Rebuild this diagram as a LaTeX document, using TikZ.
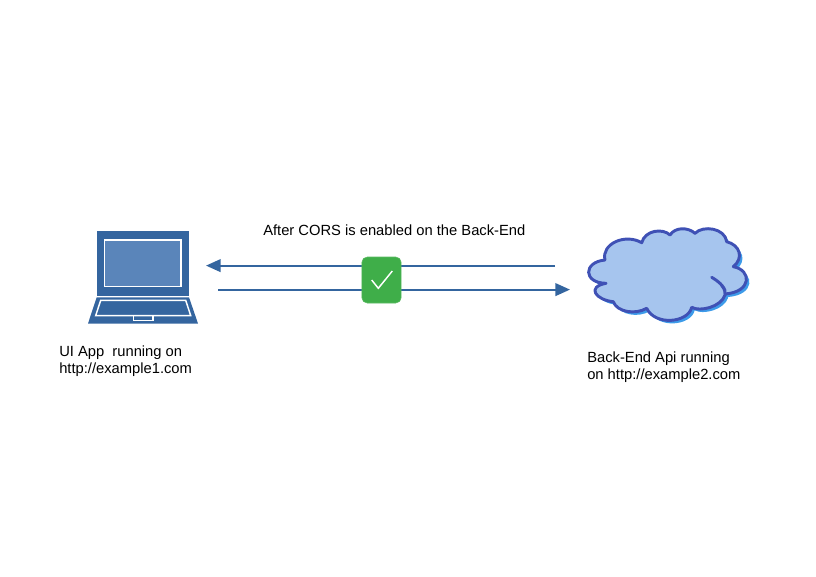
\documentclass[tikz,border=0pt]{standalone}
\usepackage{fontspec}
\setmainfont{Liberation Sans}
\usepackage{xcolor}
\usetikzlibrary{arrows.meta, positioning}
\definecolor{appblue}{HTML}{34659F}
\definecolor{screenblue}{HTML}{5A85BA}
\definecolor{cloudfill}{HTML}{A6C5EE}
\definecolor{cloudline}{HTML}{3F51B5}
\definecolor{cloudshadow}{HTML}{3D9BE9}
\definecolor{okgreen}{HTML}{3FAE49}
\tikzset{
    flow/.style={draw=appblue, line width=1.5pt, -{Triangle[length=11pt, width=9.5pt]}},
    caption/.style={align=left, inner sep=0pt, anchor=north west, font=\fontsize{11.05}{12.1}\selectfont},
    cloudedge/.style={line width=2.2pt, line cap=round, line join=round}
}
\begin{document}
\begin{tikzpicture}[x=0.75pt, y=-0.75pt]
    \useasboundingbox (0,0) rectangle (816,576);

    % Laptop
    \fill[appblue] (96.7,231) rectangle (189,296.3);
    \draw[white, line width=1.1pt, fill=screenblue] (104.7,240) rectangle (181,286.7);
    \fill[appblue] (96.7,297.3) -- (189,297.3) -- (198,323.5) -- (88,323.5) -- cycle;
    \draw[white, line width=1.1pt] (100.7,300.3) -- (185.7,300.3) -- (190.7,315.6) -- (95.7,315.6) -- cycle;
    \draw[white, line width=1.1pt] (133.3,315.6) rectangle (153,320.3);

    % Cloud
    \def\cloudpath{(605,260) .. controls (601,244) and (625,233) .. (641.7,242.7)
        .. controls (645,230) and (663,228) .. (670,235)
        .. controls (675,227) and (688,227) .. (695,233.3)
        .. controls (703,225) and (725,228) .. (726.7,241.7)
        .. controls (740,245) and (744,258) .. (733.3,266.7)
        .. controls (752,270) and (752,292) .. (725,294)
        .. controls (725,286) and (718,281) .. (711.7,277.3)
        .. controls (720,282) and (727,289) .. (725,295)
        .. controls (721,307) and (700,312) .. (691.7,307.3)
        .. controls (688,323) and (655,326) .. (646.7,308.3)
        .. controls (635,315) and (617,312) .. (613.3,301.7)
        .. controls (596,300) and (586,287) .. (606,283.3)
        .. controls (583,283) and (583,262) .. (605,260) -- cycle}
    \fill[cloudshadow, shift={(3,3)}] \cloudpath;
    \fill[cloudfill] \cloudpath;
    \draw[cloudline, cloudedge] \cloudpath;

    % Connectors
    \coordinate (apiOut) at (555,265.6);
    \coordinate (appIn) at (206,265.6);
    \coordinate (appOut) at (218,289.6);
    \coordinate (apiIn) at (570,289.6);
    \draw[flow] (apiOut) -- (appIn);
    \draw[flow] (appOut) -- (apiIn);

    % Check badge
    \node[fill=okgreen, draw=okgreen!85!white, rounded corners=4pt, minimum width=29.5pt, minimum height=34.5pt, inner sep=0pt] (badge) at (381.5,280) {};
    \draw[white, line width=1.1pt] (371.7,280) -- (378.3,288.3) -- (392.3,271);

    % Labels
    \node[caption] (corsLabel) at (263,225) {After CORS is enabled on the Back-End};
    \node[caption] (appLabel) at (59,346) {UI App\ \ running on\\http://example1.com};
    \node[caption] (apiLabel) at (587,352) {Back-End Api running\\on http://example2.com};
\end{tikzpicture}
\end{document}
